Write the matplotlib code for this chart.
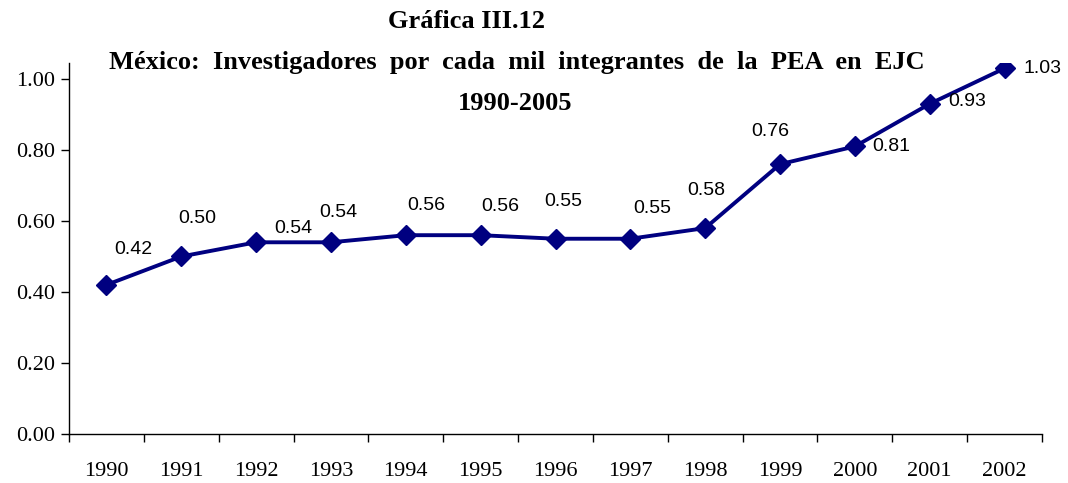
import matplotlib
matplotlib.use("Agg")
import matplotlib.pyplot as plt

years = ["1990", "1991", "1992", "1993", "1994", "1995", "1996",
         "1997", "1998", "1999", "2000", "2001", "2002"]
values = [0.42, 0.50, 0.54, 0.54, 0.56, 0.56, 0.55, 0.55, 0.58, 0.76, 0.81, 0.93, 1.03]
labels = ["0.42", "0.50", "0.54", "0.54", "0.56", "0.56", "0.55",
          "0.55", "0.58", "0.76", "0.81", "0.93", "1.03"]
yticks = [0.0, 0.2, 0.4, 0.6, 0.8, 1.0]

# label offsets in pixels (dx right, dy up)
label_offsets = [(27, 35), (16, 38), (37, 14), (7, 30), (20, 30), (20, 29), (8, 37),
                 (22, 30), (1, 38), (-10, 33), (36, 0), (37, 2), (38, 0)]

W, H = 1068, 483
fig = plt.figure(figsize=(W / 100, H / 100), dpi=100)
ax = fig.add_axes([69 / W, 1 - 434 / H, (1042 - 69) / W, (434 - 63) / H])

color = "#000080"
x = list(range(len(years)))
ax.plot(x, values, color=color, lw=2.8, marker="D", markersize=10.5, zorder=3)

px = 72 / 100  # points per pixel
for xi, v, lab, (dx, dy) in zip(x, values, labels, label_offsets):
    ax.annotate(lab, (xi, v), xytext=(dx * px, dy * px), textcoords="offset points",
                ha="center", va="center", fontsize=14, family="Liberation Sans")

ax.set_xlim(-0.5, len(years) - 0.5)
ax.set_ylim(0, 1.045)
ax.set_yticks(yticks)
ax.set_yticklabels([f"{t:.2f}" for t in yticks], family="Liberation Serif", fontsize=16)
ax.set_xticks(x)
ax.set_xticklabels(years, family="Liberation Serif", fontsize=16)
ax.set_xticks([i - 0.5 for i in range(len(years) + 1)], minor=True)
ax.tick_params(axis="x", which="major", length=0, pad=20)
ax.tick_params(axis="x", which="minor", length=6, direction="out", width=1)
ax.tick_params(axis="y", length=6, width=1, pad=4)
for s in ["top", "right"]:
    ax.spines[s].set_visible(False)
for s in ["left", "bottom"]:
    ax.spines[s].set_linewidth(1)

fig.text(466 / W, 1 - 21 / H, "Gráfica III.12", ha="center", va="center",
         family="Liberation Serif", weight="bold", fontsize=19)
fig.text(517 / W, 1 - 62 / H, "México:  Investigadores  por  cada  mil  integrantes  de  la  PEA  en  EJC",
         ha="center", va="center", family="Liberation Serif", weight="bold", fontsize=19)
fig.text(515 / W, 1 - 103 / H, "1990-2005", ha="center", va="center",
         family="Liberation Serif", weight="bold", fontsize=19)

fig.savefig("out.png", dpi=100)
